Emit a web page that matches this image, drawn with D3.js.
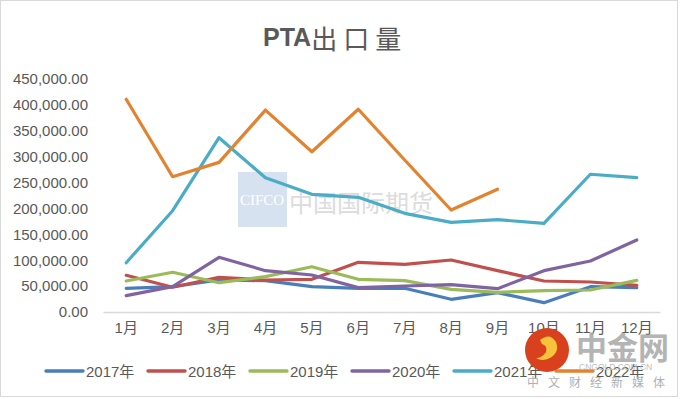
<!DOCTYPE html>
<html>
<head>
<meta charset="utf-8">
<script src="https://cdn.jsdelivr.net/npm/d3@7"></script>
<style>
  body { margin: 0; background: #fff; }
  #chart { width: 680px; height: 399px; }
  text { font-family: "Liberation Sans", Arial, "Noto Sans CJK SC", sans-serif; }
</style>
</head>
<body>
<div id="chart"></div>
<script>
const months = ['1月', '2月', '3月', '4月', '5月', '6月', '7月', '8月', '9月', '10月', '11月', '12月'];
const yTicks = [0, 50000, 100000, 150000, 200000, 250000, 300000, 350000, 400000, 450000];
const seriesNames = ['2017年', '2018年', '2019年', '2020年', '2021年', '2022年'];
const seriesColors = ['#4a7ebb', '#c0504d', '#9bbb59', '#8064a2', '#4bacc6', '#e2832f'];

const v2017 = [45800, 48900, 61800, 60500, 48900, 45800, 45800, 24500, 37300, 18000, 48900, 47000];
const v2018 = [70900, 47700, 67000, 61800, 63100, 96000, 92100, 100400, 79800, 59900, 57900, 51600];
const v2019 = [59900, 76700, 56600, 68200, 87500, 63100, 60500, 43800, 38000, 41100, 42500, 61200];
const v2020 = [31500, 48900, 105600, 79800, 71500, 47000, 50200, 52700, 45000, 79800, 98500, 139000];
const v2021 = [95200, 195600, 336600, 259400, 227300, 221500, 190600, 173200, 178300, 171300, 266000, 259400];
const v2022 = [410800, 261300, 289000, 390000, 309600, 391500, 293600, 197000, 237000];

const allSeries = [v2017, v2018, v2019, v2020, v2021, v2022];

const width = 680, height = 399;

const svg = d3.select('#chart').append('svg')
  .attr('width', width)
  .attr('height', height);

// chart border
svg.append('rect')
  .attr('x', 0.5).attr('y', 0.5)
  .attr('width', 677).attr('height', 396)
  .attr('fill', '#fff')
  .attr('stroke', '#d9d9d9');

const title = svg.append('text')
  .attr('x', 263).attr('y', 37)
  .attr('dominant-baseline', 'central')
  .attr('font-size', 25)
  .attr('font-weight', 'bold')
  .attr('fill', '#595959');
title.append('tspan').text('PTA');
title.append('tspan')
  .attr('font-weight', 'normal')
  .attr('letter-spacing', 6)
  .style('font-family', '"Noto Sans CJK SC", sans-serif')
  .attr('font-size', 26)
  .text('出口量');

const xScale = d3.scaleBand().domain(months).range([103, 660]);
const yScale = d3.scaleLinear().domain([0, 450000]).range([312, 79]);

// watermark (CIFCO)
const wm = svg.append('g').attr('class', 'watermark');
wm.append('rect')
  .attr('x', 238).attr('y', 172).attr('width', 49).attr('height', 55)
  .attr('fill', '#d6e2ef');
wm.append('text')
  .attr('x', 262).attr('y', 200)
  .attr('text-anchor', 'middle').attr('dominant-baseline', 'central')
  .style('font-family', '"Liberation Serif", serif')
  .attr('font-size', 15).attr('fill', '#fff')
  .text('CIFCO');
wm.append('text')
  .attr('x', 289).attr('y', 201)
  .attr('dominant-baseline', 'central')
  .style('font-family', '"Noto Sans CJK SC", sans-serif')
  .attr('font-size', 24).attr('fill', '#dcdcdc')
  .text('中国国际期货');

// axes
const gY = svg.append('g').attr('transform', 'translate(88,0)');
gY.call(d3.axisLeft(yScale).tickValues(yTicks).tickSize(0).tickPadding(0)
  .tickFormat(d3.format(',.2f')));
gY.select('.domain').remove();
gY.selectAll('text').attr('font-size', 15).attr('fill', '#595959');

const gX = svg.append('g').attr('transform', 'translate(0,312)');
gX.call(d3.axisBottom(xScale).tickSize(0).tickPadding(10));
gX.select('.domain').attr('stroke', '#d9d9d9').attr('stroke-width', 1.5);
gX.selectAll('text').attr('font-size', 15).attr('fill', '#595959');

const line = d3.line()
  .x((d, i) => xScale(months[i]) + xScale.bandwidth() / 2)
  .y((d) => yScale(d));

svg.append('g').selectAll('path')
  .data(allSeries)
  .enter()
  .append('path')
  .attr('d', (d) => line(d))
  .attr('fill', 'none')
  .attr('stroke', (d, i) => seriesColors[i])
  .attr('stroke-width', 3.2)
  .attr('stroke-linejoin', 'round')
  .attr('stroke-linecap', 'round');

// legend
const legend = svg.append('g').attr('transform', 'translate(46,371)');
const item = legend.selectAll('g')
  .data(seriesNames)
  .enter()
  .append('g')
  .attr('transform', (d, i) => 'translate(' + i * 102 + ',0)');
item.append('line')
  .attr('x1', 0).attr('x2', 37)
  .attr('stroke', (d, i) => seriesColors[i])
  .attr('stroke-width', 3.4)
  .attr('stroke-linecap', 'round');
item.append('text')
  .attr('x', 40).attr('y', 0)
  .attr('dominant-baseline', 'central')
  .attr('font-size', 15)
  .attr('fill', '#595959')
  .text((d) => d);

// watermark (logo, bottom right)
const logo = svg.append('g');
logo.append('circle')
  .attr('cx', 547).attr('cy', 350).attr('r', 22)
  .attr('fill', '#d8401e');
logo.append('path')
  .attr('d', 'M540,340 q10,-8 16,2 q4,10 -6,16 q-8,4 -14,0 q6,0 10,-6 q2,-6 -4,-8 z')
  .attr('fill', '#f6c33a');
logo.append('text')
  .attr('x', 576).attr('y', 345)
  .attr('dominant-baseline', 'central')
  .style('font-family', '"Noto Sans CJK SC", sans-serif')
  .attr('font-size', 31).attr('font-weight', 'bold')
  .attr('fill', '#a8a8a8').attr('opacity', 0.85)
  .text('中金网');
logo.append('text')
  .attr('x', 579).attr('y', 367)
  .attr('dominant-baseline', 'central')
  .attr('font-size', 8.5).attr('fill', '#c0c0c0')
  .text('CNGOLD.COM.CN');
logo.append('text')
  .attr('x', 527).attr('y', 381)
  .attr('dominant-baseline', 'central')
  .attr('letter-spacing', 9)
  .style('font-family', '"Noto Sans CJK SC", sans-serif')
  .attr('font-size', 12).attr('fill', '#b0b0b0')
  .text('中文财经新媒体');
</script>
</body>
</html>
